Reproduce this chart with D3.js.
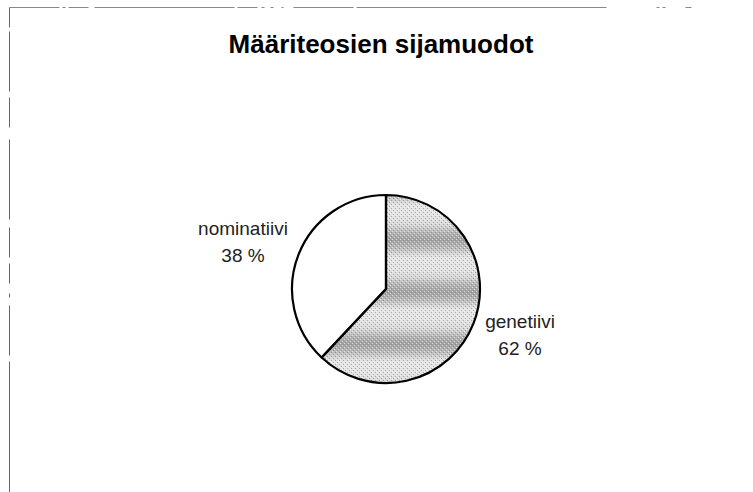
<!DOCTYPE html>
<html>
<head>
<meta charset="utf-8">
<script src="https://cdn.jsdelivr.net/npm/d3@7"></script>
<style>
  html, body { margin: 0; padding: 0; background: #fff; }
  svg { display: block; }
</style>
</head>
<body>
<script>
const categories = ["genetiivi", "nominatiivi"];
const values = [62, 38];
const valueLabels = ["62 %", "38 %"];
const title = "Määriteosien sijamuodot";

const W = 753, H = 492;
const svg = d3.select("body").append("svg").attr("width", W).attr("height", H);

// frame (top and left edges visible)
svg.append("line").attr("x1", 9.5).attr("y1", 7.5).attr("x2", W).attr("y2", 7.5)
  .attr("stroke", "#888").attr("stroke-width", 1)
  .attr("stroke-dasharray", "50,3,3,3,20,6,140,3,20,4,3,6,3,8,2,10,60,3,250");
svg.append("line").attr("x1", 9.5).attr("y1", 7.5).attr("x2", 9.5).attr("y2", H)
  .attr("stroke", "#666").attr("stroke-width", 1)
  .attr("stroke-dasharray", "20,4,60,6,30,12,80,8,30,6,20,10,4,8,50,6,200");

// texture for the shaded slice
const defs = svg.append("defs");
const grad = defs.append("linearGradient")
  .attr("id", "bands").attr("gradientUnits", "userSpaceOnUse")
  .attr("x1", 0).attr("y1", 196).attr("x2", 0).attr("y2", 248)
  .attr("spreadMethod", "repeat");
[[0, "#d8d8d8"], [0.15, "#b4b4b4"], [0.3, "#a2a2a2"], [0.45, "#bdbdbd"], [0.62, "#e6e6e6"], [0.85, "#e4e4e4"], [1, "#d8d8d8"]]
  .forEach(([o, c]) => grad.append("stop").attr("offset", o).attr("stop-color", c));
const pat = defs.append("pattern").attr("id", "dots").attr("patternUnits", "userSpaceOnUse")
  .attr("width", 4).attr("height", 4);
pat.append("rect").attr("x", 0).attr("y", 0).attr("width", 1).attr("height", 1).attr("fill", "#fff").attr("opacity", 0.6);
pat.append("rect").attr("x", 2).attr("y", 2).attr("width", 1).attr("height", 1).attr("fill", "#fff").attr("opacity", 0.6);
pat.append("rect").attr("x", 1).attr("y", 3).attr("width", 1).attr("height", 1).attr("fill", "#666").attr("opacity", 0.5);
pat.append("rect").attr("x", 3).attr("y", 1).attr("width", 1).attr("height", 1).attr("fill", "#666").attr("opacity", 0.5);

const fills = ["url(#bands)", "#fff"];

// title
svg.append("text")
  .attr("x", 381).attr("y", 53)
  .attr("text-anchor", "middle")
  .attr("font-family", "Liberation Sans, Arial, sans-serif")
  .attr("font-weight", "bold").attr("font-size", 26)
  .attr("fill", "#000")
  .text(title);

const cx = 386, cy = 289, r = 94;
const g = svg.append("g").attr("transform", `translate(${cx},${cy})`);
const pie = d3.pie().sort(null).value(d => d)(values);
const arc = d3.arc().innerRadius(0).outerRadius(r);

g.selectAll("path.slice").data(pie).enter().append("path")
  .attr("class", "slice")
  .attr("d", arc)
  .attr("fill", (d, i) => fills[i])
  .attr("stroke", "none");
g.append("path").attr("d", arc(pie[0])).attr("fill", "url(#dots)").attr("stroke", "none");
g.selectAll("path.edge").data(pie).enter().append("path")
  .attr("class", "edge")
  .attr("d", arc)
  .attr("fill", "none")
  .attr("stroke", "#000").attr("stroke-width", 2.2).attr("stroke-linejoin", "round");

// labels
const labelPos = [[520, 328], [243, 235]];
const lab = svg.append("g")
  .attr("font-family", "Liberation Sans, Arial, sans-serif")
  .attr("font-size", 19).attr("fill", "#222").attr("text-anchor", "middle");
categories.forEach((c, i) => {
  lab.append("text").attr("x", labelPos[i][0]).attr("y", labelPos[i][1]).text(c);
  lab.append("text").attr("x", labelPos[i][0]).attr("y", labelPos[i][1] + 27).text(valueLabels[i]);
});
</script>
</body>
</html>
